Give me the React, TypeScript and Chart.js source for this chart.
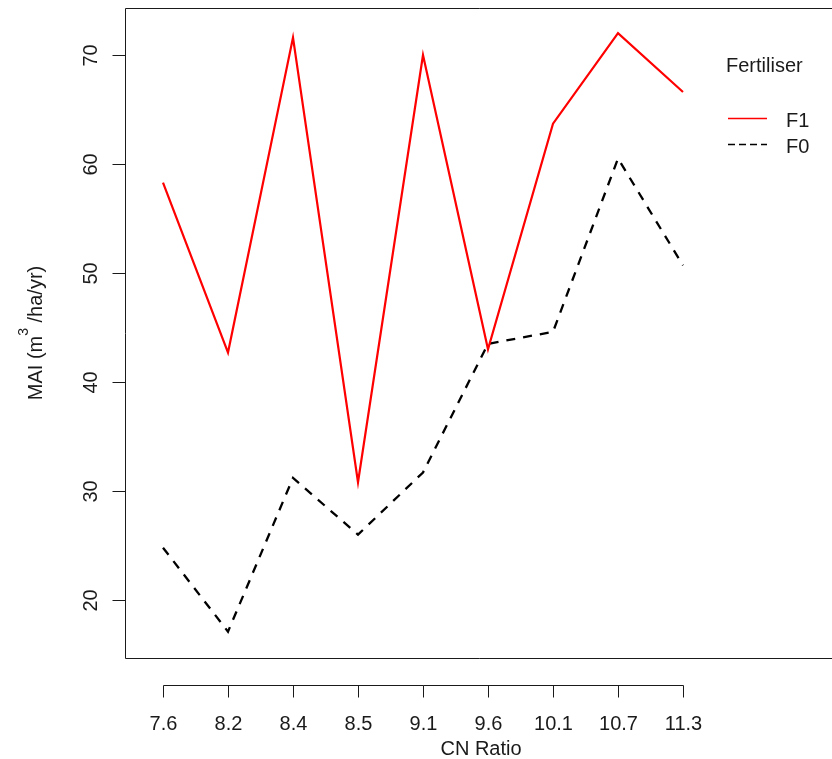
import { useEffect, useRef } from "react";
import { Chart, registerables } from "chart.js";

Chart.register(...registerables);

const cnRatio = ["7.6", "8.2", "8.4", "8.5", "9.1", "9.6", "10.1", "10.7", "11.3"];
const f1Values = [58.3, 42.7, 71.6, 30.8, 70.0, 43.0, 63.7, 72.0, 66.6];
const f0Values = [24.8, 17.1, 31.2, 26.0, 31.7, 43.5, 44.6, 60.5, 50.7];
const yTicks = [20, 30, 40, 50, 60, 70];
const seriesNames = ["F1", "F0"];
const legendTitle = "Fertiliser";
const xTitle = "CN Ratio";

const FONT = '"Liberation Sans", Arial, sans-serif';
const INK = "#1a1a1a";
const PLOT_RIGHT = 837; // the plot box extends just past the canvas edge

const rBasePlot = {
  id: "rBasePlot",
  afterDraw(chart: any) {
    const ctx = chart.ctx as CanvasRenderingContext2D;
    const area = chart.chartArea;
    const xs = chart.scales.x;
    const ys = chart.scales.y;
    ctx.save();
    ctx.strokeStyle = INK;
    ctx.fillStyle = INK;
    ctx.lineWidth = 1;

    // box (right edge lies beyond the canvas)
    const L = Math.round(area.left) + 0.5;
    const T = Math.round(area.top) + 0.5;
    const B = Math.round(area.bottom) + 0.5;
    ctx.beginPath();
    ctx.moveTo(chart.width + 2, T);
    ctx.lineTo(L, T);
    ctx.lineTo(L, B);
    ctx.lineTo(chart.width + 2, B);
    ctx.stroke();

    // y axis ticks + rotated labels
    ctx.font = `20px ${FONT}`;
    for (const v of yTicks) {
      const py = Math.round(ys.getPixelForValue(v)) + 0.5;
      ctx.beginPath();
      ctx.moveTo(L - 13, py);
      ctx.lineTo(L, py);
      ctx.stroke();
      ctx.save();
      ctx.translate(97, py);
      ctx.rotate(-Math.PI / 2);
      ctx.textAlign = "center";
      ctx.textBaseline = "alphabetic";
      ctx.fillText(String(v), 0, 0);
      ctx.restore();
    }

    // x axis (detached, R style)
    const axY = Math.round(area.bottom + 27) + 0.5;
    const x0 = Math.round(xs.getPixelForValue(0)) + 0.5;
    const x1 = Math.round(xs.getPixelForValue(cnRatio.length - 1)) + 0.5;
    ctx.beginPath();
    ctx.moveTo(x0, axY);
    ctx.lineTo(x1, axY);
    ctx.stroke();
    ctx.textAlign = "center";
    ctx.textBaseline = "alphabetic";
    cnRatio.forEach((lab, i) => {
      const px = Math.round(xs.getPixelForValue(i)) + 0.5;
      ctx.beginPath();
      ctx.moveTo(px, axY);
      ctx.lineTo(px, axY + 12);
      ctx.stroke();
      ctx.fillText(lab, px, 730);
    });
    ctx.fillText(xTitle, (area.left + PLOT_RIGHT) / 2, 755);

    // y title with superscript
    const part1 = "MAI (m";
    const sup = "3";
    const part2 = " /ha/yr)";
    ctx.font = `20px ${FONT}`;
    const w1 = ctx.measureText(part1).width;
    const w3 = ctx.measureText(part2).width;
    ctx.font = `14px ${FONT}`;
    const w2 = ctx.measureText(sup).width;
    const total = w1 + w2 + w3;
    const cy = (area.top + area.bottom) / 2;
    ctx.save();
    ctx.translate(42, cy);
    ctx.rotate(-Math.PI / 2);
    ctx.textAlign = "left";
    ctx.font = `20px ${FONT}`;
    ctx.fillText(part1, -total / 2, 0);
    ctx.font = `14px ${FONT}`;
    ctx.fillText(sup, -total / 2 + w1, -14);
    ctx.font = `20px ${FONT}`;
    ctx.fillText(part2, -total / 2 + w1 + w2, 0);
    ctx.restore();

    // legend
    ctx.textAlign = "left";
    ctx.font = `20px ${FONT}`;
    ctx.fillText(legendTitle, 726, 72);
    const ds = chart.data.datasets;
    const rows = [118, 144];
    rows.forEach((ly, i) => {
      ctx.save();
      ctx.strokeStyle = ds[i].borderColor;
      ctx.lineWidth = 1.3;
      ctx.setLineDash(i === 1 ? [7, 4] : []);
      ctx.beginPath();
      ctx.moveTo(728, ly + 0.5);
      ctx.lineTo(767, ly + 0.5);
      ctx.stroke();
      ctx.restore();
      ctx.fillText(seriesNames[i], 786, ly + 9);
    });

    ctx.restore();
  },
};

export default function App() {
  const ref = useRef<HTMLCanvasElement | null>(null);
  useEffect(() => {
    document.body.style.margin = "0";
    if (!ref.current) return;
    const pxPerCat = 65;
    const left = 125;
    const firstX = 163;
    const width = 832;
    const xMin = -(firstX - left) / pxPerCat;
    const xMax = xMin + (width - left) / pxPerCat;
    const chart = new Chart(ref.current, {
      type: "line",
      data: {
        datasets: [
          {
            label: seriesNames[0],
            data: f1Values.map((v, i) => ({ x: i, y: v })),
            borderColor: "#ff0000",
            borderWidth: 2.2,
            pointRadius: 0,
            tension: 0,
            fill: false,
          },
          {
            label: seriesNames[1],
            data: f0Values.map((v, i) => ({ x: i, y: v })),
            borderColor: "#000000",
            borderWidth: 2.3,
            borderDash: [9, 8],
            pointRadius: 0,
            tension: 0,
            fill: false,
          },
        ],
      },
      options: {
        animation: false,
        responsive: false,
        devicePixelRatio: 1,
        layout: { padding: { left: 125, top: 8, right: 0, bottom: 101 } },
        plugins: { legend: { display: false }, tooltip: { enabled: false } },
        scales: {
          x: { type: "linear", min: xMin, max: xMax, display: false },
          y: { type: "linear", min: 14.68, max: 74.31, display: false },
        },
      },
      plugins: [rBasePlot],
    });
    return () => chart.destroy();
  }, []);
  return (
    <div style={{ position: "absolute", left: 0, top: 0, width: 832, height: 759, background: "#fff" }}>
      <canvas ref={ref} width={832} height={759} style={{ display: "block" }} />
    </div>
  );
}
